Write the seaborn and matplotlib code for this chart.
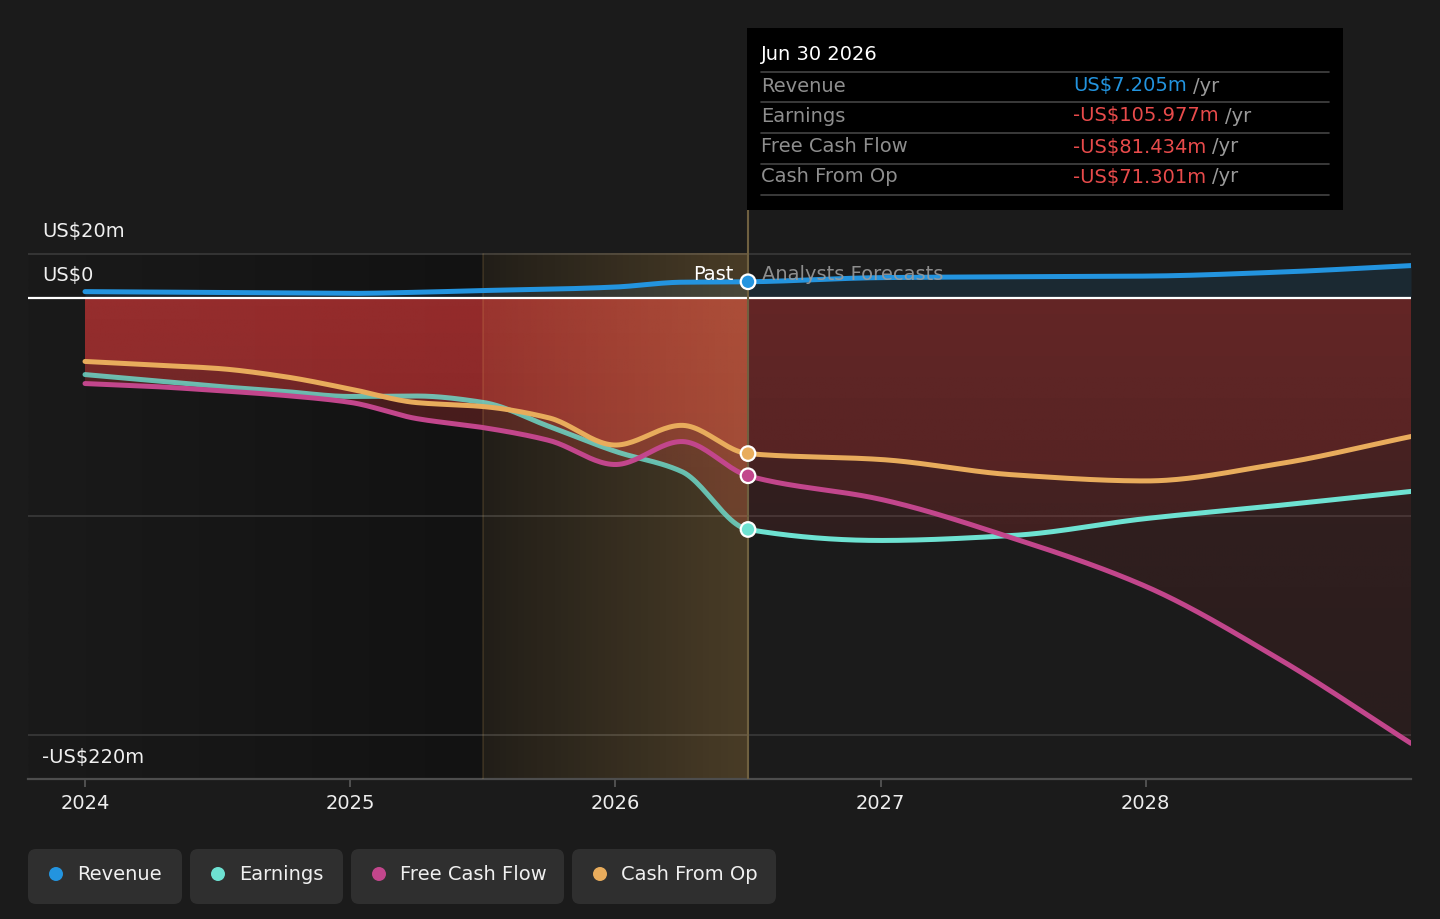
import numpy as np
import pandas as pd
import matplotlib
matplotlib.use('Agg')
import matplotlib.pyplot as plt
import seaborn as sns
from matplotlib.patches import FancyBboxPatch, Rectangle, Circle
from matplotlib.lines import Line2D
from matplotlib.transforms import IdentityTransform, blended_transform_factory
from matplotlib.colors import to_rgb

# ---- data (US$ m) ----
past_years = [2024.0, 2024.25, 2024.5, 2024.75, 2025.0, 2025.25, 2025.5, 2025.75, 2026.0, 2026.25, 2026.5]
forecast_years = [2026.5, 2027.0, 2027.5, 2028.0, 2028.5, 2029.0]

revenue_past = [2.7, 2.5, 2.3, 2.1, 1.9, 2.4, 3.2, 3.8, 4.8, 7.0, 7.205]
revenue_fc = [7.205, 9.1, 9.5, 9.8, 11.6, 14.6]
earnings_past = [-35.2, -37.9, -40.6, -42.9, -45.2, -45.0, -47.9, -58.9, -70.3, -79.5, -105.977]
earnings_fc = [-105.977, -111.0, -108.7, -101.0, -95.0, -88.6]
fcf_past = [-39.3, -40.6, -42.5, -44.7, -47.9, -55.3, -59.4, -65.3, -76.3, -65.8, -81.434]
fcf_fc = [-81.434, -92.2, -110.0, -132.0, -165.0, -203.7]
cfo_past = [-29.2, -30.8, -32.4, -36.1, -41.8, -48.0, -49.8, -55.0, -67.4, -58.4, -71.301]
cfo_fc = [-71.301, -74.0, -81.0, -83.8, -76.0, -63.5]

series_names = ['Revenue', 'Earnings', 'Free Cash Flow', 'Cash From Op']
colors = ['#2394df', '#6ee2d2', '#c2468c', '#e8ac5c']
tick_years = [2024, 2025, 2026, 2027, 2028]
y_labels = ['US$20m', 'US$0', '-US$220m']
tooltip_date = 'Jun 30 2026'

split_year = 2026.5
past_start = 2025.5
xmin, xmax = 2023.785, 2029.0
ymin, ymax = -220, 40

W, H = 1440, 919
BG = '#1b1b1b'


def monotone_curve(x, y, n=500):
    # monotone cubic (like d3 curveMonotoneX) for drawing only
    x = np.asarray(x, float)
    y = np.asarray(y, float)
    h = np.diff(x)
    d = np.diff(y) / h
    m = np.zeros_like(y)
    m[0], m[-1] = d[0], d[-1]
    for i in range(1, len(y) - 1):
        if d[i - 1] * d[i] <= 0:
            m[i] = 0.0
        else:
            w1 = 2 * h[i] + h[i - 1]
            w2 = h[i] + 2 * h[i - 1]
            m[i] = (w1 + w2) / (w1 / d[i - 1] + w2 / d[i])
    xs = np.linspace(x[0], x[-1], n)
    idx = np.clip(np.searchsorted(x, xs, side='right') - 1, 0, len(x) - 2)
    t = (xs - x[idx]) / h[idx]
    h00 = 2 * t**3 - 3 * t**2 + 1
    h10 = t**3 - 2 * t**2 + t
    h01 = -2 * t**3 + 3 * t**2
    h11 = t**3 - t**2
    ys = h00 * y[idx] + h10 * h[idx] * m[idx] + h01 * y[idx + 1] + h11 * h[idx] * m[idx + 1]
    return xs, ys


sns.set_theme(style='dark')
plt.rcParams['font.family'] = ['DejaVu Sans']

fig = plt.figure(figsize=(W / 100, H / 100), dpi=100, facecolor=BG)
ax = fig.add_axes([28 / W, 1 - 779 / H, (1411 - 28) / W, (779 - 210) / H])
ax.set_facecolor(BG)

# ---- background regions ----
dark = np.linspace(np.array(to_rgb('#1a1a1a')), np.array(to_rgb('#121212')), 200)[None, :, :]
ax.imshow(dark, extent=[xmin, past_start, ymin, 20], aspect='auto', zorder=0.5, interpolation='bilinear')
ax.fill_between([past_start, split_year], ymin, 20, color='#131313', lw=0, zorder=0.6)

for g in [20, -100, -200]:
    ax.axhline(g, color='#3a3a3a', lw=1.2, zorder=1.5)

# ---- red gradient fills under the negative series ----
nx, ny = 900, 500
gx = np.linspace(xmin, xmax, nx)
frac = np.linspace(0, 1, ny)[:, None]
a_past = 0.32 - 0.14 * frac
a_fc = 0.16 - 0.09 * frac
alpha = np.where(gx[None, :] <= split_year, a_past, a_fc)
red = np.zeros((ny, nx, 4))
red[..., :3] = to_rgb('#d23838')
red[..., 3] = alpha

curves = {}
for name, p, f in zip(series_names,
                      [revenue_past, earnings_past, fcf_past, cfo_past],
                      [revenue_fc, earnings_fc, fcf_fc, cfo_fc]):
    curves[name] = monotone_curve(past_years + forecast_years[1:], p + f[1:])

for name in series_names[1:]:
    xs, ys = curves[name]
    poly = ax.fill_between(xs, 0, ys, facecolor='none', edgecolor='none')
    img = ax.imshow(red, extent=[xmin, xmax, ymin, 0], origin='upper', aspect='auto',
                    zorder=2, interpolation='bilinear')
    img.set_clip_path(poly.get_paths()[0], transform=ax.transData)

rx, ry = curves['Revenue']
ax.fill_between(rx, 0, ry, color=colors[0], alpha=0.12, lw=0, zorder=2)

# golden "past year" band laid over the fills
gold = np.zeros((1, 300, 4))
gold[..., :3] = (1.0, 0.78, 0.41)
gold[..., 3] = np.linspace(0.064, 0.233, 300)
ax.imshow(gold, extent=[past_start, split_year, ymin, 20], aspect='auto', zorder=2.5,
          interpolation='bilinear')
ax.plot([past_start, past_start], [ymin, 20], color=(1.0, 0.78, 0.41), alpha=0.13, lw=1.3, zorder=2.6)

ax.axhline(0, color='white', lw=1.6, zorder=3)
ax.plot([split_year, split_year], [ymin, ymax], color='#6f6040', lw=1.5, zorder=3)

# ---- lines ----
for name, col in zip(series_names, colors):
    xs, ys = curves[name]
    df = pd.DataFrame({'x': xs, 'y': ys})
    past = df[df.x <= split_year]
    fut = df[df.x >= split_year]
    a = 0.8 if name == 'Earnings' else 1.0
    sns.lineplot(data=past, x='x', y='y', color=col, lw=3.6, alpha=a, ax=ax,
                 sort=False, estimator=None, zorder=4)
    sns.lineplot(data=fut, x='x', y='y', color=col, lw=3.6, ax=ax,
                 sort=False, estimator=None, zorder=4)

marks = pd.DataFrame({'x': [split_year] * 4,
                      'y': [revenue_fc[0], earnings_fc[0], fcf_fc[0], cfo_fc[0]],
                      'series': series_names})
sns.scatterplot(data=marks, x='x', y='y', hue='series', palette=colors, s=110,
                edgecolor='white', linewidth=1.6, ax=ax, zorder=5, legend=False)

ax.text(split_year - 0.053, 10.5, 'Past', color='white', fontsize=14, ha='right', va='center', zorder=6)
ax.text(split_year + 0.053, 10.5, 'Analysts Forecasts', color='#9a9a9a', fontsize=14,
        ha='left', va='center', zorder=6, alpha=0.9)

# ---- axes styling ----
ax.set_xlim(xmin, xmax)
ax.set_ylim(ymin, ymax)
ax.set_xticks(tick_years)
ax.set_xticklabels([str(t) for t in tick_years])
ax.set_yticks([])
ax.set_xlabel('')
ax.set_ylabel('')
for s in ['top', 'left', 'right']:
    ax.spines[s].set_visible(False)
ax.spines['bottom'].set_color('#4d4d4d')
ax.spines['bottom'].set_linewidth(1.6)
ax.tick_params(axis='x', colors='#5a5a5a', length=6, width=1.2, labelcolor='#eeeeee',
               labelsize=14, pad=5, bottom=True)
ax.grid(False)

tr = blended_transform_factory(ax.transAxes, ax.transData)
for lab, yv in zip(y_labels, [30, 10, -210]):
    ax.text(0.0101, yv, lab, transform=tr, color='#f0f0f0', fontsize=14, ha='left', va='center', zorder=6)

# ---- tooltip ----
def fx(x):
    return x / W


def fy(y):
    return 1 - y / H


fig.patches.append(Rectangle((fx(747), fy(210)), (1343 - 747) / W, (210 - 28) / H,
                             transform=fig.transFigure, facecolor='black', edgecolor='none', zorder=10))
fig.text(fx(761), fy(55), tooltip_date, color='white', fontsize=14, va='center', zorder=11)
for yy in [72, 102, 133, 164, 195]:
    fig.add_artist(Line2D([fx(761), fx(1329)], [fy(yy), fy(yy)], color='#444444', lw=1.2, zorder=11))


def money(v):
    return ('-US$' if v < 0 else 'US$') + f'{abs(v):.3f}m'


rows = [('Revenue', revenue_fc[0], colors[0]),
        ('Earnings', earnings_fc[0], '#e84b4b'),
        ('Free Cash Flow', fcf_fc[0], '#e84b4b'),
        ('Cash From Op', cfo_fc[0], '#e84b4b')]
renderer = fig.canvas.get_renderer()
for (lab, val, col), yy in zip(rows, [86, 116, 147, 177]):
    fig.text(fx(761), fy(yy), lab, color='#8e8e8e', fontsize=14, va='center', zorder=11)
    t = fig.text(fx(1073), fy(yy), money(val), color=col, fontsize=14, va='center', zorder=11)
    bb = t.get_window_extent(renderer=renderer)
    fig.text(bb.x1 / W + 6 / W, fy(yy), '/yr', color='#9a9a9a', fontsize=14, va='center', zorder=11)

# ---- legend chips ----
chips = [(28, 182), (190, 343), (351, 564), (572, 776)]
for (x0, x1), name, col in zip(chips, series_names, colors):
    fig.patches.append(FancyBboxPatch((x0, H - 904), x1 - x0, 55,
                                      boxstyle='round,pad=0,rounding_size=8',
                                      transform=IdentityTransform(), facecolor='#2f2f2f',
                                      edgecolor='none', zorder=1))
    fig.add_artist(Circle((x0 + 28, H - 874), 7, transform=IdentityTransform(),
                          facecolor=col, edgecolor='none', zorder=2))
    fig.text(fx(x0 + 49), fy(874), name, color='#f0f0f0', fontsize=14, va='center', zorder=3)

fig.savefig('out.png', dpi=100, facecolor=BG)
